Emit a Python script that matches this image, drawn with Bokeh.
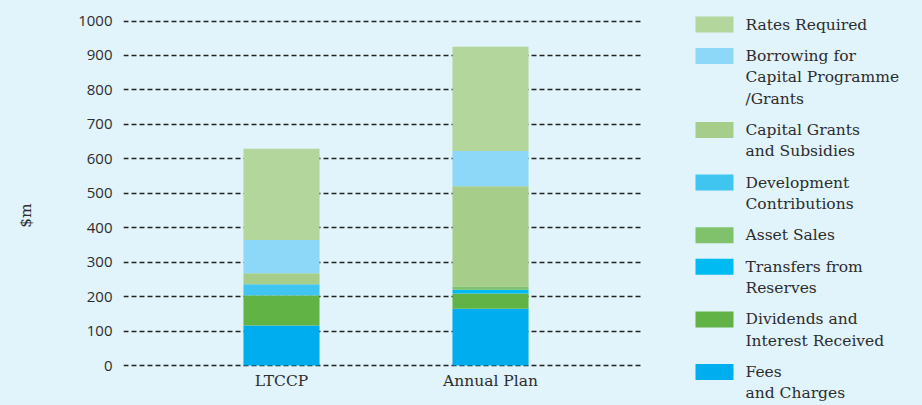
import math
from bokeh.plotting import figure
from bokeh.models import ColumnDataSource, Range1d, FixedTicker
from bokeh.layouts import row
from bokeh.embed import file_html
from bokeh.resources import INLINE
from bokeh.core.properties import value

# ---- data ----
categories = ["LTCCP", "Annual Plan"]
series = ["Fees and Charges", "Dividends and Interest Received", "Transfers from Reserves",
          "Asset Sales", "Development Contributions", "Capital Grants and Subsidies",
          "Borrowing for Capital Programme /Grants", "Rates Required"]
fees = [116, 165]
dividends = [86, 44]
transfers = [1, 11]
asset_sales = [2, 9]
dev_contrib = [31, 0]
cap_grants = [32, 291]
borrowing = [96, 103]
rates = [265, 302]
y_ticks = [0, 100, 200, 300, 400, 500, 600, 700, 800, 900, 1000]
y_title = "$m"

colors = ["#00aeef", "#62b345", "#00bbf2", "#7fc26b", "#40c5f1", "#a6cd89", "#8dd8f8", "#b3d69d"]
legend_labels = ["Rates Required", "Borrowing for\nCapital Programme\n/Grants",
                 "Capital Grants\nand Subsidies", "Development\nContributions", "Asset Sales",
                 "Transfers from\nReserves", "Dividends and\nInterest Received", "Fees\nand Charges"]

BG = "#e1f3fb"
TXT = "#2d2d2d"
SERIF = "DejaVu Serif"
H = 405

# vertical scale: value 0 at 365 px, 1000 at 20.5 px from the top of the page
PX_PER_UNIT = (365 - 20.5) / 1000
Y_LO = -(H - 365) / PX_PER_UNIT
Y_HI = 1000 + 20.5 / PX_PER_UNIT
CAT_LABEL_Y = -(380 - 365) / PX_PER_UNIT


def panel(w):
    f = figure(width=w, height=H, output_backend="svg", toolbar_location=None,
               x_range=Range1d(0, w), y_range=Range1d(H, 0),
               x_axis_location=None, y_axis_location=None, title=None,
               min_border=0, background_fill_color=BG, border_fill_color=BG, outline_line_color=None)
    f.grid.visible = False
    return f


# ---- left panel: y-axis title ----
lp = panel(40)
lp.text(x=[25], y=[215], text=[y_title], angle=math.pi / 2, text_font=value(SERIF),
        text_font_size="15.5px", text_color=TXT, text_align="center", text_baseline="middle")

# ---- main chart ----
keys = ["fees", "dividends", "transfers", "asset_sales", "dev_contrib", "cap_grants", "borrowing", "rates"]
src = ColumnDataSource(dict(x=[1, 2], fees=fees, dividends=dividends, transfers=transfers,
                            asset_sales=asset_sales, dev_contrib=dev_contrib, cap_grants=cap_grants,
                            borrowing=borrowing, rates=rates))

p = figure(width=650, height=H, output_backend="svg", toolbar_location=None,
           x_range=Range1d(0.244, 2.732), y_range=Range1d(Y_LO, Y_HI),
           x_axis_location=None, title=None,
           min_border_left=83, min_border_right=47, min_border_top=0, min_border_bottom=0,
           background_fill_color=BG, border_fill_color=BG, outline_line_color=None)

p.vbar_stack(keys, x="x", width=0.364, source=src, color=colors, line_color=None)

p.xgrid.visible = False
p.ygrid.grid_line_color = "#222222"
p.ygrid.grid_line_width = 1.6
p.ygrid.grid_line_dash = "5 3"
p.ygrid.ticker = FixedTicker(ticks=y_ticks)

p.yaxis.ticker = FixedTicker(ticks=y_ticks)
p.yaxis.axis_line_color = None
p.yaxis.major_tick_line_color = None
p.yaxis.minor_tick_line_color = None
p.yaxis.major_label_text_font = "Open Sans"
p.yaxis.major_label_text_font_size = "15px"
p.yaxis.major_label_text_color = TXT
p.yaxis.major_label_standoff = 5

# category labels under the bars
p.text(x=[1, 2], y=[CAT_LABEL_Y] * 2, text=categories, text_font=value(SERIF),
       text_font_size="15.5px", text_color=TXT, text_align="center", text_baseline="middle")

# ---- legend panel ----
lg = panel(232)
line_h = 21.3
gap = 10.1
sw_y, sw_c, tx_y, tx_t = [], [], [], []
leg_colors = list(reversed(colors))
t = 16.0
for lab, c in zip(legend_labels, leg_colors):
    sw_y.append(t + 8)
    sw_c.append(c)
    lines = lab.split("\n")
    for i, ln in enumerate(lines):
        tx_y.append(t + 8 + i * line_h)
        tx_t.append(ln)
    t += len(lines) * line_h + gap

lg.rect(x=24, y=sw_y, width=38, height=16, fill_color=sw_c, line_color=None)
lg.text(x=55, y=tx_y, text=tx_t, text_font=value(SERIF), text_font_size="15.5px",
        text_color=TXT, text_baseline="middle", text_align="left")

layout = row(lp, p, lg, spacing=0, styles={"background-color": BG})
open("out.html", "w").write(file_html(layout, INLINE))
